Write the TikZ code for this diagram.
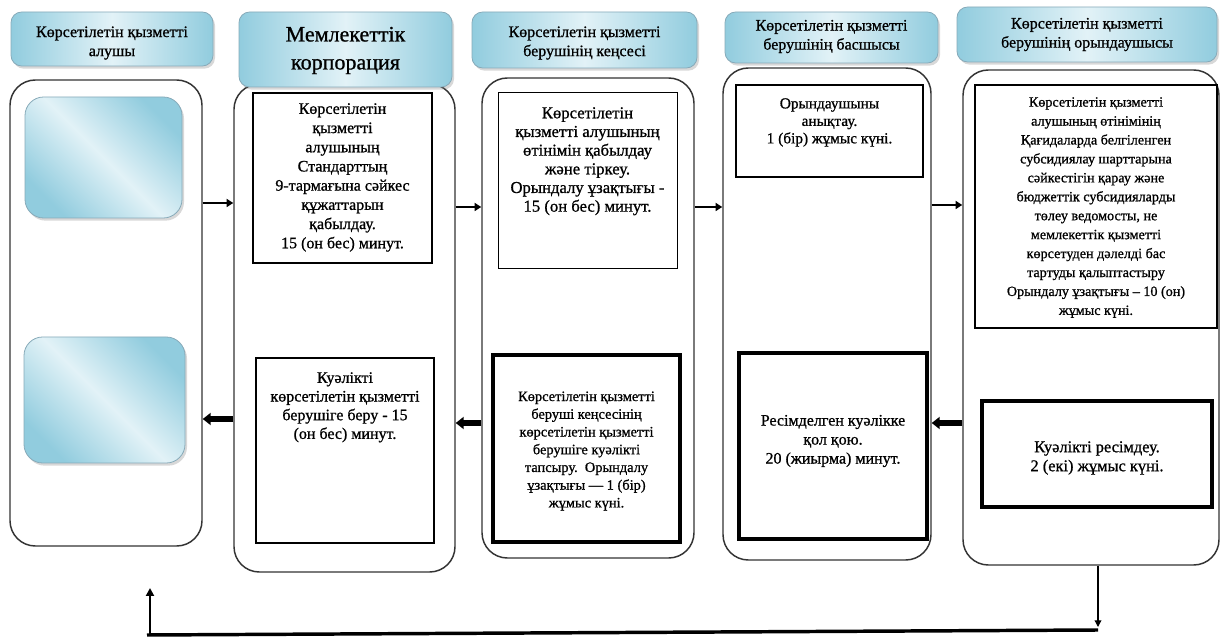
\documentclass[tikz,border=0pt]{standalone}
\usepackage{fontspec}
\setmainfont{Liberation Serif}[FakeBold=0.9]
\usetikzlibrary{arrows.meta,fit,shadows,calc}
\definecolor{hdark}{RGB}{145,204,222}
\definecolor{hlight}{RGB}{226,242,247}
\definecolor{hborder}{RGB}{135,170,185}
\begin{document}
\begin{tikzpicture}[x=0.75pt,y=-0.75pt,
  lane/.style={draw=black!80, line width=1.1pt, rounded corners=19pt, inner sep=0pt},
  hdr/.style={draw=hborder, line width=0.6pt, rounded corners=8pt, inner sep=0pt,
    left color=hdark, right color=hdark, middle color=hlight,
    drop shadow={opacity=0.3, shadow xshift=1.5pt, shadow yshift=-2pt}},
  htxt/.style={align=center, inner sep=0pt, font=\fontsize{12}{14.3}\selectfont},
  bluebox/.style={draw=hborder, line width=0.6pt, rounded corners=14pt, inner sep=0pt,
    left color=hdark, right color=hdark, middle color=hlight, shading angle=135,
    drop shadow={opacity=0.3, shadow xshift=1.5pt, shadow yshift=-2pt}},
  bx/.style={draw=black, fill=white, inner sep=0pt},
  txt/.style={align=center, inner sep=0pt},
  thinarr/.style={line width=1.5pt, -{Triangle[length=5pt,width=6pt]}},
  thickarr/.style={line width=3.8pt, -{Triangle[length=6pt,width=9pt]}}
]
\useasboundingbox (0,0) rectangle (1222,641);
\fill[white] (0,0) rectangle (1222,641);

% lanes
\node[lane, fit={(10,80) (202,546)}] (lane1) {};
\node[lane, fit={(234,84) (455,572)}] (lane2) {};
\node[lane, fit={(482,78) (694,558)}] (lane3) {};
\node[lane, fit={(723,68) (931,560)}] (lane4) {};
\node[lane, fit={(963,70) (1219,565)}] (lane5) {};

% headers
\node[hdr, fit={(11,12) (213,66)}] (h1) {};
\node[hdr, fit={(239,12) (452,87)}] (h2) {};
\node[hdr, fit={(472,12) (697,68)}] (h3) {};
\node[hdr, fit={(725,12) (938,63)}] (h4) {};
\node[hdr, fit={(957,7) (1217,62)}] (h5) {};
\node[htxt] (h1t) at ($(h1.center)+(0,4)$) {Көрсетілетін қызметті\\алушы};
\node[htxt, font=\fontsize{16.5}{21}\selectfont] (h2t) at ($(h2.center)+(0,1)$) {Мемлекеттік\\корпорация};
\node[htxt] (h3t) at ($(h3.center)+(0,3)$) {Көрсетілетін қызметті\\берушінің кеңсесі};
\node[htxt] (h4t) at ($(h4.center)+(0,-1)$) {Көрсетілетін қызметті\\берушінің басшысы};
\node[htxt] (h5t) at ($(h5.center)+(0,0)$) {Көрсетілетін қызметті\\берушінің орындаушысы};

% blue boxes in lane 1
\node[bluebox, fit={(25,97) (182,218)}] (b1) {};
\node[bluebox, fit={(24,337) (185,463)}] (b2) {};

% text boxes
\node[bx, line width=2pt, fit={(253,93) (432,263)}] (ba) {};
\node[bx, line width=1.9pt, fit={(256,358) (434,543)}] (bb) {};
\node[bx, line width=0.75pt, fit={(498,93) (677,269)}] (bc) {};
\node[bx, line width=3pt, fit={(493,355) (680,542)}] (bd) {};
\node[bx, line width=1.5pt, fit={(736,85) (923,177)}] (be) {};
\node[bx, line width=1pt, fit={(975,85) (1217,328)}] (bf) {};
\node[bx, line width=3pt, fit={(739,353) (927,539)}] (bg) {};
\node[bx, line width=2.6pt, fit={(982,401) (1212,507)}] (bh) {};

\node[txt, anchor=north, font=\fontsize{12}{14.4}\selectfont] (ta) at (342.5,103)
  {Көрсетілетін\\қызметті\\алушының\\Стандарттың\\9-тармағына сәйкес\\құжаттарын\\қабылдау.\\15 (он бес) минут.};
\node[txt, anchor=north, font=\fontsize{12}{14}\selectfont] (tb) at (345,372)
  {Куәлікті\\көрсетілетін қызметті\\берушіге беру - 15\\(он бес) минут.};
\node[txt, anchor=north, font=\fontsize{12.5}{14}\selectfont] (tc) at (587.5,107)
  {Көрсетілетін\\қызметті алушының\\өтінімін қабылдау\\және тіркеу.\\Орындалу ұзақтығы -\\15 (он бес) минут.};
\node[txt, font=\fontsize{10.8}{13.3}\selectfont] (td) at (586.5,451)
  {Көрсетілетін қызметті\\беруші кеңсесінің\\көрсетілетін қызметті\\берушіге куәлікті\\тапсыру.\ \ Орындалу\\ұзақтығы — 1 (бір)\\жұмыс күні.};
\node[txt, anchor=north, font=\fontsize{11.5}{13.1}\selectfont] (te) at (829.5,98)
  {Орындаушыны\\анықтау.\\1 (бір) жұмыс күні.};
\node[txt, anchor=north, font=\fontsize{10.6}{14.2}\selectfont] (tf) at (1096,97)
  {Көрсетілетін қызметті\\алушының өтінімінің\\Қағидаларда белгіленген\\субсидиялау шарттарына\\сәйкестігін қарау және\\бюджеттік субсидияларды\\төлеу ведомосты, не\\мемлекеттік қызметті\\көрсетуден дәлелді бас\\тартуды қалыптастыру\\Орындалу ұзақтығы – 10 (он)\\жұмыс күні.};
\node[txt, font=\fontsize{12}{14.25}\selectfont] (tg) at (833,441)
  {Ресімделген куәлікке\\қол қою.\\20 (жиырма) минут.};
\node[txt, font=\fontsize{12.3}{14.25}\selectfont] (th) at (1097,458)
  {Куәлікті ресімдеу.\\2 (екі) жұмыс күні.};

% arrows between lanes
\coordinate (ya) at (0,203);
\coordinate (yb) at (0,419);
\coordinate (yc) at (0,207);
\coordinate (yd) at (0,423);
\coordinate (ye) at (0,205);
\draw[thinarr] (lane1.east |- ya) -- (lane2.west |- ya);
\draw[thickarr] (lane2.west |- yb) -- (lane1.east |- yb);
\draw[thinarr] (lane2.east |- yc) -- (lane3.west |- yc);
\draw[thickarr] (lane3.west |- yd) -- (lane2.east |- yd);
\draw[thinarr] (lane3.east |- yc) -- (lane4.west |- yc);
\draw[thinarr] (lane4.east |- ye) -- (lane5.west |- ye);
\draw[thickarr] (lane5.west |- yd) -- (lane4.east |- yd);

% return loop
\coordinate (lp1) at (1098,630);
\coordinate (lp2) at (147,635);
\coordinate (up) at (150,588);
\draw[line width=1pt, -{Triangle[length=5pt,width=5pt]}] (lane5.south -| lp1) -- ($(lp1)+(0,-3)$);
\draw[line width=2.6pt] (lp1) -- (lp2);
\draw[line width=1.5pt, -{Triangle[length=6pt,width=6pt]}] (lp2 -| up) -- (up);
\end{tikzpicture}
\end{document}
